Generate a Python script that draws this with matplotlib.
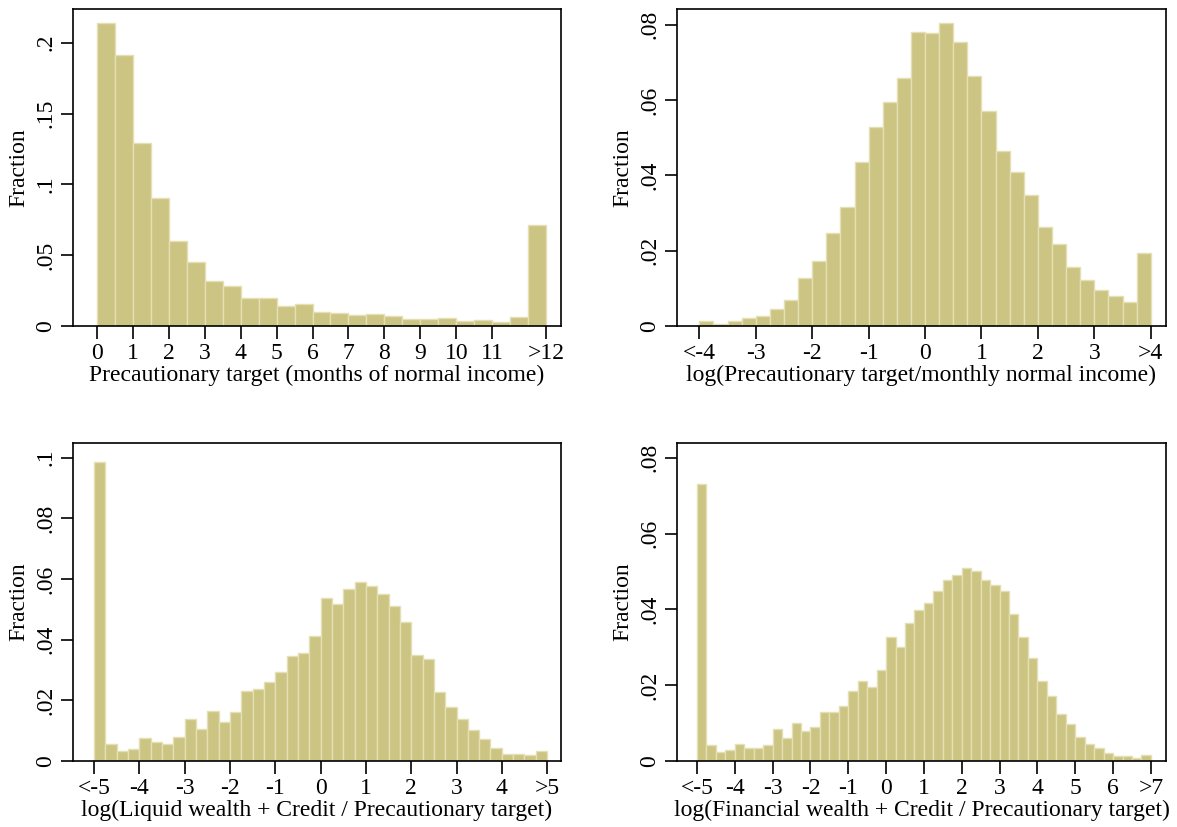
import matplotlib
matplotlib.use("Agg")
import matplotlib.pyplot as plt
import numpy as np

plt.rcParams['font.family'] = ['Liberation Serif', 'DejaVu Serif']

# ---------------- data ----------------
# Panel 1: precautionary target in months (bins of 0.5, last bin = >12)
p1_left = 0.0
p1_width = 0.5
p1_values = [0.2136, 0.191, 0.129, 0.0906, 0.0598, 0.0454, 0.032, 0.0285,
             0.020, 0.0195, 0.0141, 0.0153, 0.0096, 0.0092, 0.0078, 0.0087,
             0.0071, 0.0047, 0.0049, 0.0054, 0.0033, 0.0040, 0.0031, 0.0061,
             0.0711]
p1_ticks = [0, 1, 2, 3, 4, 5, 6, 7, 8, 9, 10, 11, 12.5]
p1_ticklabels = ['0', '1', '2', '3', '4', '5', '6', '7', '8', '9', '10', '11', '>12']
p1_yticks = [0, 0.05, 0.1, 0.15, 0.2]
p1_yticklabels = ['0', '.05', '.1', '.15', '.2']
p1_xlabel = 'Precautionary target (months of normal income)'

# Panel 2: log(target / monthly income), bins of 0.25 from -4 to 4
p2_left = -4.0
p2_width = 0.25
p2_values = [0.0012, 0.0005, 0.0012, 0.0021, 0.0027, 0.0046, 0.0068, 0.0127,
             0.0173, 0.0247, 0.0317, 0.0435, 0.0528, 0.0596, 0.0658, 0.0781,
             0.0779, 0.0804, 0.0755, 0.0663, 0.0570, 0.0464, 0.0410, 0.0347,
             0.0262, 0.0219, 0.0157, 0.0121, 0.0096, 0.0079, 0.0064, 0.0193]
p2_ticks = [-4, -3, -2, -1, 0, 1, 2, 3, 4]
p2_ticklabels = ['<-4', '-3', '-2', '-1', '0', '1', '2', '3', '>4']
p2_yticks = [0, 0.02, 0.04, 0.06, 0.08]
p2_yticklabels = ['0', '.02', '.04', '.06', '.08']
p2_xlabel = 'log(Precautionary target/monthly normal income)'

# Panel 3: log(liquid wealth + credit / target), bins of 0.25 from -5 to 5
p3_left = -5.0
p3_width = 0.25
p3_values = [0.0985, 0.0057, 0.0033, 0.0039, 0.0077, 0.0061, 0.0055, 0.0078,
             0.0137, 0.0107, 0.0166, 0.0129, 0.0161, 0.0231, 0.0237, 0.0260,
             0.0294, 0.0346, 0.0355, 0.0411, 0.0536, 0.0518, 0.0567, 0.0589,
             0.0576, 0.0552, 0.0511, 0.0457, 0.0348, 0.0336, 0.0229, 0.0178,
             0.0140, 0.0102, 0.0073, 0.0043, 0.0024, 0.0022, 0.0019, 0.0034]
p3_ticks = [-5, -4, -3, -2, -1, 0, 1, 2, 3, 4, 5]
p3_ticklabels = ['<-5', '-4', '-3', '-2', '-1', '0', '1', '2', '3', '4', '>5']
p3_yticks = [0, 0.02, 0.04, 0.06, 0.08, 0.1]
p3_yticklabels = ['0', '.02', '.04', '.06', '.08', '.1']
p3_xlabel = 'log(Liquid wealth + Credit / Precautionary target)'

# Panel 4: log(financial wealth + credit / target), bins of 0.25 from -5 to 7
p4_left = -5.0
p4_width = 0.25
p4_values = [0.0730, 0.0041, 0.0024, 0.0030, 0.0045, 0.0034, 0.0035, 0.0043,
             0.0085, 0.0062, 0.0101, 0.0078, 0.0090, 0.0129, 0.0130, 0.0146,
             0.0186, 0.0211, 0.0194, 0.0239, 0.0327, 0.0300, 0.0363, 0.0398,
             0.0416, 0.0449, 0.0478, 0.0490, 0.0508, 0.0502, 0.0477, 0.0465,
             0.0448, 0.0389, 0.0326, 0.0272, 0.0210, 0.0171, 0.0123, 0.0097,
             0.0064, 0.0044, 0.0035, 0.0022, 0.0012, 0.0013, 0.0009, 0.0016]
p4_ticks = [-5, -4, -3, -2, -1, 0, 1, 2, 3, 4, 5, 6, 7]
p4_ticklabels = ['<-5', '-4', '-3', '-2', '-1', '0', '1', '2', '3', '4', '5', '6', '>7']
p4_yticks = [0, 0.02, 0.04, 0.06, 0.08]
p4_yticklabels = ['0', '.02', '.04', '.06', '.08']
p4_xlabel = 'log(Financial wealth + Credit / Precautionary target)'

ylabel = 'Fraction'

# ---------------- figure ----------------
W, H = 1177, 827
fig = plt.figure(figsize=(W / 100, H / 100), dpi=100)

def add_ax(l, r, t, b):
    return fig.add_axes([l / W, 1 - b / H, (r - l) / W, (b - t) / H])

FILL = '#CCC482'
EDGE = '#E4E0B4'
FS = 17

panels = [
    (add_ax(73, 561, 9, 326), p1_left, p1_width, p1_values, p1_ticks, p1_ticklabels,
     p1_yticks, p1_yticklabels, p1_xlabel, (-0.66, 12.91), 0.2238),
    (add_ax(677, 1166, 9, 326), p2_left, p2_width, p2_values, p2_ticks, p2_ticklabels,
     p2_yticks, p2_yticklabels, p2_xlabel, (-4.396, 4.27), 0.0842),
    (add_ax(73, 561, 443, 761), p3_left, p3_width, p3_values, p3_ticks, p3_ticklabels,
     p3_yticks, p3_yticklabels, p3_xlabel, (-5.463, 5.306), 0.1048),
    (add_ax(677, 1166, 443, 761), p4_left, p4_width, p4_values, p4_ticks, p4_ticklabels,
     p4_yticks, p4_yticklabels, p4_xlabel, (-5.528, 7.40), 0.0839),
]

for ax, left, width, vals, xt, xtl, yt, ytl, xl, xlim, ytop in panels:
    edges = left + width * np.arange(len(vals))
    ax.bar(edges, vals, width=width, align='edge', color=FILL,
           edgecolor=EDGE, linewidth=1.0)
    ax.set_xlim(*xlim)
    ax.set_ylim(0, ytop)
    ax.set_xticks(xt)
    ax.set_xticklabels(xtl, fontsize=FS)
    ax.set_yticks(yt)
    ax.set_yticklabels(ytl, fontsize=FS, rotation=90, va='center')
    ax.tick_params(direction='out', length=9, width=1.2, pad=3, color='black')
    ax.set_xlabel(xl, fontsize=FS, labelpad=1)
    ax.set_ylabel(ylabel, fontsize=FS, labelpad=4)
    for s in ax.spines.values():
        s.set_linewidth(1.2)
        s.set_color('black')

fig.savefig('out.png', dpi=100, facecolor='white')
